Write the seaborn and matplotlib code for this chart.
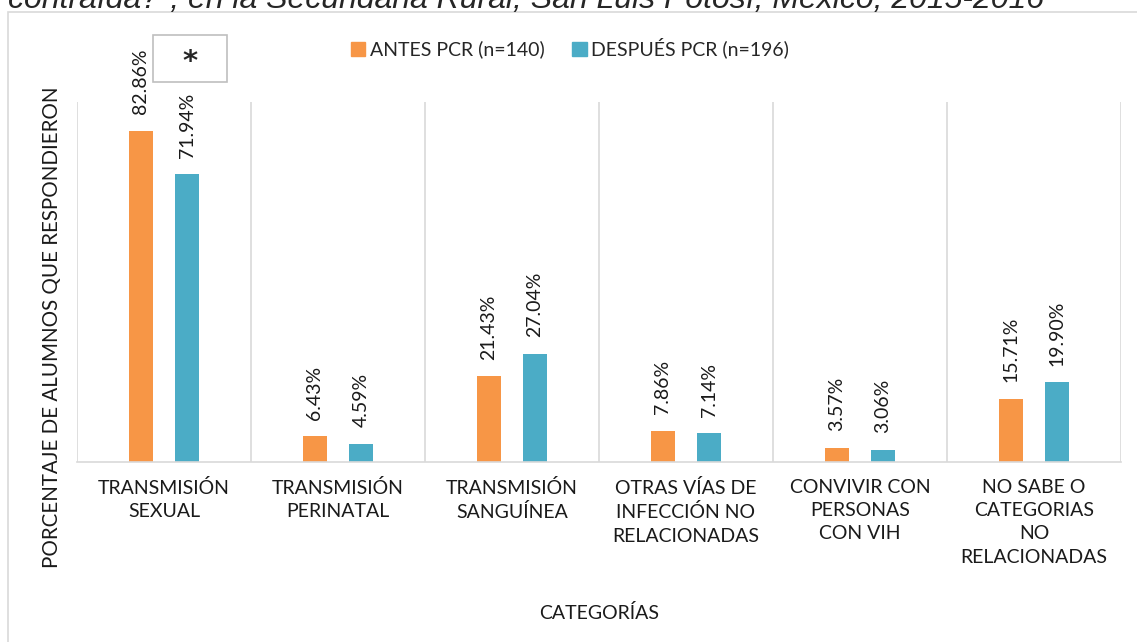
import numpy as np
import pandas as pd
import matplotlib
matplotlib.use("Agg")
import matplotlib.pyplot as plt
from matplotlib.patches import Rectangle
import seaborn as sns

categories = ["TRANSMISIÓN\nSEXUAL", "TRANSMISIÓN\nPERINATAL", "TRANSMISIÓN\nSANGUÍNEA",
              "OTRAS VÍAS DE\nINFECCIÓN NO\nRELACIONADAS", "CONVIVIR CON\nPERSONAS\nCON VIH",
              "NO SABE O\nCATEGORIAS\nNO\nRELACIONADAS"]
antes = [82.86, 6.43, 21.43, 7.86, 3.57, 15.71]
despues = [71.94, 4.59, 27.04, 7.14, 3.06, 19.90]
series = ["ANTES PCR (n=140)", "DESPUÉS PCR (n=196)"]
colors = ["#F79646", "#4BACC6"]

df = pd.DataFrame({
    "cat": categories * 2,
    "serie": [series[0]] * len(categories) + [series[1]] * len(categories),
    "val": antes + despues,
})

sns.set_theme(style="white")
plt.rcParams["font.family"] = ["Lato", "DejaVu Sans"]

fig = plt.figure(figsize=(11.37, 6.42), dpi=100)
W, H = 1137, 642
ax = fig.add_axes([77 / W, 1 - 462 / H, (1121 - 77) / W, (462 - 102) / H])

sns.barplot(data=df, x="cat", y="val", hue="serie", palette=colors, width=0.53,
            ax=ax, legend=False, saturation=1)

# narrow the bars around their centers
bw = 0.138
for p in ax.patches:
    c = p.get_x() + p.get_width() / 2
    p.set_width(bw)
    p.set_x(c - bw / 2)
    p.set_edgecolor("none")

for cont in ax.containers:
    ax.bar_label(cont, labels=[f"{v:.2f}%" for v in cont.datavalues], rotation=90,
                 padding=12, fontsize=14, color="#1a1a1a")

ax.set_ylim(0, 90)
ax.set_xlim(-0.5, len(categories) - 0.5)
for b in np.arange(-0.5, len(categories), 1.0):
    ax.axvline(b, color="#d9d9d9", lw=1.2, zorder=0)
ax.set_yticks([])
ax.tick_params(axis="x", length=0, pad=12)
ax.set_xticklabels(categories, fontsize=14, linespacing=1.45, color="#1a1a1a", va="top")
for s in ["top", "right", "left"]:
    ax.spines[s].set_visible(False)
ax.spines["bottom"].set_color("#d9d9d9")
ax.spines["bottom"].set_linewidth(1.2)

ax.set_xlabel("CATEGORÍAS", fontsize=14, color="#1a1a1a")
ax.xaxis.set_label_coords(0.5, -(604 - 462) / (462 - 102))
ax.set_ylabel("PORCENTAJE DE ALUMNOS QUE RESPONDIERON", fontsize=14.8, color="#1a1a1a")
ax.yaxis.set_label_coords(-(77 - 62) / (1121 - 77), (462 - 327) / (462 - 102))

# legend
handles = [Rectangle((0, 0), 1, 1, color=c) for c in colors]
fig.legend(handles, series, loc="center", bbox_to_anchor=(570 / W, 1 - 48 / H), ncol=2,
           frameon=False, fontsize=14, handlelength=0.75, handleheight=0.75,
           handletextpad=0.25, columnspacing=1.4)

# asterisk box
fig.patches.append(Rectangle((153 / W, 1 - 82 / H), 74 / W, 47 / H, transform=fig.transFigure,
                             fill=False, edgecolor="#bfbfbf", lw=1.2))
fig.text(190 / W, 1 - 62 / H, "*", fontsize=21, fontweight="bold", ha="center", va="center",
         family="DejaVu Sans")

# outer chart border
fig.patches.append(Rectangle((8 / W, -0.05), 1.1, 1 - 12 / H + 0.05, transform=fig.transFigure,
                             fill=False, edgecolor="#d9d9d9", lw=1.2))

# cut-off title line above the chart (as in the reference)
fig.text(8 / W, 1 - 8 / H,
         'contraída?", en la Secundaria Rural, San Luis Potosí, México, 2015-2016',
         fontsize=23, style="italic", family="Liberation Sans", va="baseline", ha="left")

fig.savefig("out.png", dpi=100)
